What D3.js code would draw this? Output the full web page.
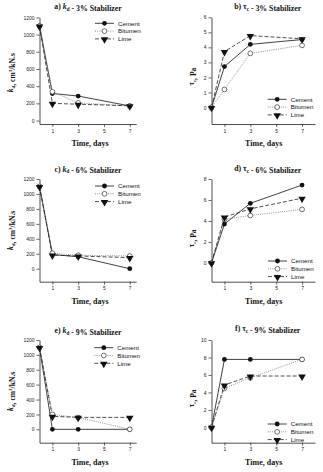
<!DOCTYPE html>
<html>
<head>
<meta charset="utf-8">
<script src="https://cdn.jsdelivr.net/npm/d3@7"></script>
<style>
  body { margin: 0; background: #fff; }
  svg { display: block; }
  .tick text { font-family: "Liberation Sans", Arial, sans-serif; font-size: 5px; fill: #222; }
  .lab { font-family: "Liberation Serif", "Times New Roman", serif; font-weight: bold; fill: #111; }
  .leg { font-family: "Liberation Sans", Arial, sans-serif; font-size: 6.2px; fill: #111; }
</style>
</head>
<body>
<svg id="chart" width="323" height="472"></svg>
<script>
// time axis
const days = [0, 1, 3, 7]
const xTicks = [1, 3, 5, 7]
const series = ['Cement', 'Bitumen', 'Lime']

// k_d, cm3/kN.s
const kd3Cement = [1100, 315, 285, 170]
const kd3Bitumen = [1100, 335, 205, 170]
const kd3Lime = [1100, 200, 190, 172]
const kd6Cement = [1100, 190, 160, 0]
const kd6Bitumen = [1100, 208, 180, 170]
const kd6Lime = [1100, 182, 170, 148]
const kd9Cement = [1100, 0, 0, 0]
const kd9Bitumen = [1100, 200, 158, 0]
const kd9Lime = [1100, 175, 160, 160]

// tau_c, Pa
const tc3Cement = [0, 2.72, 4.2, 4.52]
const tc3Bitumen = [0, 1.2, 3.6, 4.13]
const tc3Lime = [0, 3.72, 4.78, 4.57]
const tc6Cement = [0, 3.7, 5.68, 7.42]
const tc6Bitumen = [0, 4.15, 4.52, 5.1]
const tc6Lime = [0, 4.37, 5.15, 6.17]
const tc9Cement = [0, 7.78, 7.78, 7.78]
const tc9Bitumen = [0, 4.47, 5.68, 7.78]
const tc9Lime = [0, 4.85, 5.88, 5.88]

const kdTicks = [0, 200, 400, 600, 800, 1000, 1200]
const tc3Ticks = [0, 1, 2, 3, 4, 5, 6]
const tc6Ticks = [0, 2, 4, 6, 8]
const tc9Ticks = [0, 2, 4, 6, 8, 10]

const svg = d3.select('#chart')

const styleOf = {
  Cement: { dash: null, color: '#111', marker: 'dot' },
  Bitumen: { dash: '1,1.2', color: '#777', marker: 'ring' },
  Lime: { dash: '4,2', color: '#222', marker: 'tri' }
}

const drawMarker = (g, kind, x, y) => {
  if (kind === 'dot') {
    g.append('circle').attr('cx', x).attr('cy', y).attr('r', 2.4).attr('fill', '#111')
  } else if (kind === 'ring') {
    g.append('circle').attr('cx', x).attr('cy', y).attr('r', 2.4)
      .attr('fill', '#fff').attr('stroke', '#333').attr('stroke-width', 0.7)
  } else {
    g.append('path').attr('d', d3.symbol(d3.symbolTriangle, 24)())
      .attr('transform', `translate(${x},${y + 0.6}) rotate(180)`).attr('fill', '#111')
  }
}

// writes title-like text with italic symbol and subscript
const addSym = (t, sym, sub, size) => {
  t.append('tspan').attr('font-style', sym === 'k' ? 'italic' : 'normal').text(sym)
  t.append('tspan').attr('font-size', size * 0.65).attr('dy', size * 0.25).text(sub)
  t.append('tspan').attr('dy', -size * 0.25).text('')
}

const panel = (p) => {
  const g = svg.append('g')
  const x = d3.scaleLinear().domain(p.xDomain).range(p.xRange)
  const y = d3.scaleLinear().domain(p.yDomain).range(p.yRange)

  g.append('g').attr('transform', `translate(0,${p.yRange[0]})`)
    .call(d3.axisBottom(x).tickValues(xTicks).tickSize(3).tickPadding(2).tickSizeOuter(0))
  g.append('g').attr('transform', `translate(${p.xRange[0]},0)`)
    .call(d3.axisLeft(y).tickValues(p.yTicks).tickFormat(d3.format('d'))
      .tickSize(3).tickPadding(2).tickSizeOuter(0))
  g.selectAll('.domain').attr('stroke', '#222').attr('stroke-width', 0.8)
  g.selectAll('.tick line').attr('stroke', '#222').attr('stroke-width', 0.7)

  const line = d3.line().x((d, i) => x(days[i])).y(d => y(d))
  p.data.forEach((vals, k) => {
    const s = styleOf[series[k]]
    g.append('path').attr('d', line(vals)).attr('fill', 'none')
      .attr('stroke', s.color).attr('stroke-width', 0.8)
      .attr('stroke-dasharray', s.dash)
  })
  p.data.forEach((vals, k) => {
    const s = styleOf[series[k]]
    vals.forEach((v, i) => drawMarker(g, s.marker, x(days[i]), y(v)))
  })

  // legend
  series.forEach((name, k) => {
    const s = styleOf[name]
    const ly = p.legY + k * 7.8
    g.append('line').attr('x1', p.legX).attr('x2', p.legX + 19).attr('y1', ly).attr('y2', ly)
      .attr('stroke', s.color).attr('stroke-width', 0.8).attr('stroke-dasharray', s.dash)
    drawMarker(g, s.marker, p.legX + 9.5, ly)
    g.append('text').attr('class', 'leg').attr('x', p.legX + 23).attr('y', ly + 2.2).text(name)
  })

  // title
  const t = g.append('text').attr('class', 'lab').attr('font-size', 7.8)
    .attr('x', p.titleX).attr('y', p.titleY).attr('text-anchor', 'middle')
  t.append('tspan').text(p.letter + ') ')
  addSym(t, p.sym, p.sym === 'k' ? 'd' : 'c', 7.8)
  t.append('tspan').text(' - ' + p.pct + ' Stabilizer')

  // x label
  g.append('text').attr('class', 'lab').attr('font-size', 8)
    .attr('x', p.xLabX).attr('y', p.yRange[0] + 22).attr('text-anchor', 'middle').text('Time, days')

  // y label
  const midY = (p.yRange[0] + p.yRange[1]) / 2 + p.yLabShift
  const yl = g.append('text').attr('class', 'lab').attr('font-size', 7.6)
    .attr('transform', `translate(${p.yLabX},${midY}) rotate(-90)`).attr('text-anchor', 'middle')
  if (p.sym === 'k') {
    addSym(yl, 'k', 'd', 7.6)
    yl.append('tspan').text(', cm')
    yl.append('tspan').attr('font-size', 5).attr('dy', -2.8).text('3')
    yl.append('tspan').attr('dy', 2.8).text('/kN.s')
  } else {
    addSym(yl, 'τ', 'c', 7.6)
    yl.append('tspan').text(', Pa')
  }
}

const leftX = [39.5, 136.2]
const rightX = [211.5, 315]

panel({ letter: 'a', sym: 'k', pct: '3%', xDomain: [0, 7.5], xRange: leftX,
  yDomain: [-40, 1200], yRange: [124, 17.4], yTicks: kdTicks,
  data: [kd3Cement, kd3Bitumen, kd3Lime], legX: 95, legY: 23.3,
  titleX: 88, titleY: 9, xLabX: 90, yLabX: 13, yLabShift: 2 })
panel({ letter: 'b', sym: 'τ', pct: '3%', xDomain: [0, 8], xRange: rightX,
  yDomain: [-1.1, 6], yRange: [124, 17.3], yTicks: tc3Ticks,
  data: [tc3Cement, tc3Bitumen, tc3Lime], legX: 267.7, legY: 99.3,
  titleX: 267.7, titleY: 9, xLabX: 263.7, yLabX: 194, yLabShift: 6 })
panel({ letter: 'c', sym: 'k', pct: '6%', xDomain: [0, 7.5], xRange: leftX,
  yDomain: [-174, 1200], yRange: [281.7, 179], yTicks: kdTicks,
  data: [kd6Cement, kd6Bitumen, kd6Lime], legX: 95, legY: 186,
  titleX: 88, titleY: 171.5, xLabX: 90, yLabX: 13, yLabShift: 0 })
panel({ letter: 'd', sym: 'τ', pct: '6%', xDomain: [0, 8], xRange: rightX,
  yDomain: [-1.8, 8], yRange: [281.7, 179], yTicks: tc6Ticks,
  data: [tc6Cement, tc6Bitumen, tc6Lime], legX: 268, legY: 261,
  titleX: 267.7, titleY: 171, xLabX: 263.7, yLabX: 194, yLabShift: 8 })
panel({ letter: 'e', sym: 'k', pct: '9%', xDomain: [0, 7.5], xRange: leftX,
  yDomain: [-180, 1200], yRange: [442.7, 340], yTicks: kdTicks,
  data: [kd9Cement, kd9Bitumen, kd9Lime], legX: 94.3, legY: 347.7,
  titleX: 88, titleY: 333, xLabX: 90, yLabX: 13, yLabShift: 0 })
panel({ letter: 'f', sym: 'τ', pct: '9%', xDomain: [0, 8], xRange: rightX,
  yDomain: [-1.75, 10], yRange: [442.7, 340], yTicks: tc9Ticks,
  data: [tc9Cement, tc9Bitumen, tc9Lime], legX: 267.7, legY: 424,
  titleX: 267.7, titleY: 331, xLabX: 263.7, yLabX: 194, yLabShift: 7 })
</script>
</body>
</html>
